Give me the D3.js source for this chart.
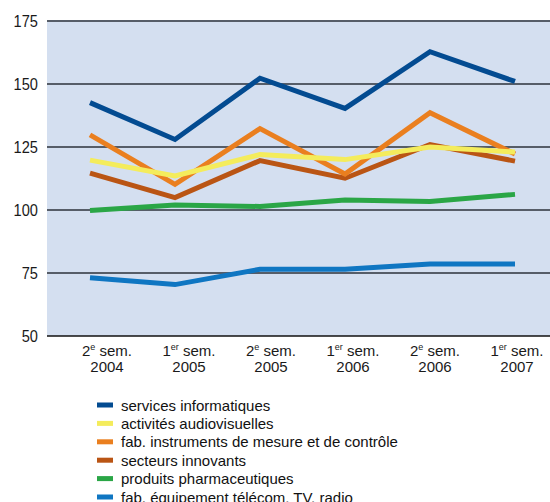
<!DOCTYPE html>
<html>
<head>
<meta charset="utf-8">
<script src="https://cdn.jsdelivr.net/npm/d3@7"></script>
<style>
  html, body { margin: 0; padding: 0; background: #fff; }
  svg { display: block; font-family: "Liberation Sans", Arial, sans-serif; }
</style>
</head>
<body>
<svg id="chart" width="550" height="502"></svg>
<script>
// ---- data ----
const periods = ["S2 2004", "S1 2005", "S2 2005", "S1 2006", "S2 2006", "S1 2007"];
const periodSem = ["2", "1", "2", "1", "2", "1"];
const periodSup = ["e", "er", "e", "er", "e", "er"];
const periodYear = ["2004", "2005", "2005", "2006", "2006", "2007"];
const yTicks = [50, 75, 100, 125, 150, 175];

const seriesNames = [
  "services informatiques",
  "activités audiovisuelles",
  "fab. instruments de mesure et de contrôle",
  "secteurs innovants",
  "produits pharmaceutiques",
  "fab. équipement télécom, TV, radio"
];
const servicesInformatiques = [142.6, 128, 152.3, 140.3, 162.8, 151];
const activitesAudiovisuelles = [119.8, 113.5, 122, 120, 125, 123];
const instrumentsMesure = [129.8, 110.2, 132.3, 114.3, 138.6, 122.2];
const secteursInnovants = [114.6, 104.9, 119.6, 112.6, 126, 119.4];
const produitsPharma = [99.8, 102, 101.4, 104, 103.4, 106.2];
const equipementTelecom = [73.1, 70.4, 76.5, 76.5, 78.6, 78.6];
const seriesColors = ["#034b91", "#f4ec5c", "#ea7f1f", "#ba5514", "#2aa646", "#0f76c2"];

const seriesValues = [servicesInformatiques, activitesAudiovisuelles, instrumentsMesure,
                      secteursInnovants, produitsPharma, equipementTelecom];

// ---- layout ----
const svg = d3.select("#chart");
const plotLeft = 47, plotRight = 550, plotTop = 21, plotBottom = 336;

const x = d3.scalePoint().domain(periods).range([90, 515]);
const xLabel = d3.scalePoint().domain(periods).range([107, 517]);
const y = d3.scaleLinear().domain([50, 175]).range([plotBottom, plotTop]);

// background
svg.append("rect")
  .attr("x", plotLeft).attr("y", plotTop)
  .attr("width", plotRight - plotLeft).attr("height", plotBottom - plotTop)
  .attr("fill", "#d4dff0");

// gridlines
svg.append("g").selectAll("line")
  .data(yTicks.filter(t => t > 50))
  .join("line")
  .attr("x1", plotLeft).attr("x2", plotRight)
  .attr("y1", d => y(d)).attr("y2", d => y(d))
  .attr("stroke", "#565d68").attr("stroke-width", 2);

// y axis labels
const yAxis = d3.axisLeft(y).tickValues(yTicks).tickSize(0).tickPadding(0);
const yg = svg.append("g").attr("transform", `translate(${plotLeft - 9},0)`).call(yAxis);
yg.select(".domain").remove();
yg.selectAll(".tick text")
  .attr("font-family", "'Liberation Sans', Arial, sans-serif")
  .attr("font-size", 17)
  .attr("fill", "#1a1a1a")
  .attr("dy", "0.36em")
  .attr("x", 0);
yg.selectAll(".tick").each(function(d) {
  d3.select(this).attr("transform", `translate(0,${y(d)}) scale(0.86,1)`);
});

// x axis baseline
svg.append("line")
  .attr("x1", plotLeft).attr("x2", plotRight)
  .attr("y1", plotBottom).attr("y2", plotBottom)
  .attr("stroke", "#111").attr("stroke-width", 1.5);

// x labels
const xl = svg.append("g").selectAll("g").data(periods).join("g")
  .attr("transform", d => `translate(${xLabel(d)},0)`);
const line1 = xl.append("text")
  .attr("text-anchor", "middle").attr("y", 356)
  .attr("font-size", 15).attr("fill", "#1a1a1a");
line1.append("tspan").text((d, i) => periodSem[i]);
line1.append("tspan").text((d, i) => periodSup[i])
  .attr("font-size", 9).attr("dy", -6);
line1.append("tspan").text(" sem.").attr("dy", 6);
xl.append("text")
  .attr("text-anchor", "middle").attr("y", 372)
  .attr("font-size", 15).attr("fill", "#1a1a1a")
  .text((d, i) => periodYear[i]);

// lines (drawn bottom series first)
const lineGen = d3.line().x((d, i) => x(periods[i])).y(d => y(d));
const order = d3.range(seriesNames.length).reverse();
svg.append("g").selectAll("path")
  .data(order)
  .join("path")
  .attr("d", k => lineGen(seriesValues[k]))
  .attr("fill", "none")
  .attr("stroke", k => seriesColors[k])
  .attr("stroke-width", 5)
  .attr("stroke-linejoin", "miter")
  .attr("stroke-linecap", "butt");

// legend
const legend = svg.append("g").selectAll("g").data(seriesNames).join("g")
  .attr("transform", (d, i) => `translate(97,${405 + i * 18.4})`);
legend.append("rect")
  .attr("x", 0).attr("y", -2.5).attr("width", 16).attr("height", 5)
  .attr("fill", (d, i) => seriesColors[i]);
legend.append("text")
  .attr("x", 24).attr("y", 5.5)
  .attr("font-size", 15).attr("fill", "#111")
  .text(d => d);
</script>
</body>
</html>
